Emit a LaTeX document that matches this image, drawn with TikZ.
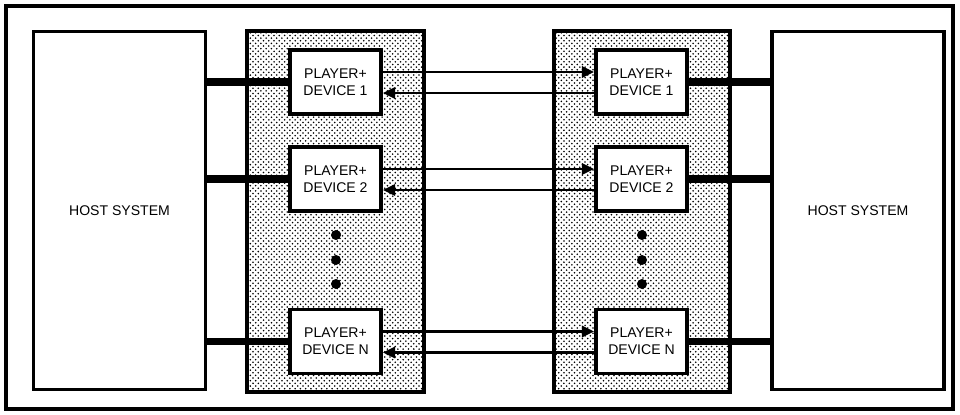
\documentclass[tikz,border=0pt]{standalone}
\usepackage{fontspec}
\setmainfont{Liberation Sans}
\usepackage{tikz}
\usetikzlibrary{arrows.meta, patterns, calc}

\tikzset{
  hostbox/.style={draw, line width=2.2pt, fill=white, minimum width=3.44cm, minimum height=7.16cm, font=\fontsize{8}{10}\selectfont},
  devbox/.style={draw, line width=2.2pt, fill=white, minimum width=1.82cm, minimum height=1.28cm, align=center, font=\fontsize{8}{9.5}\selectfont},
  panel/.style={draw, line width=2.2pt, pattern=crosshatch dots, pattern color=black},
  bus/.style={line width=4.5pt},
  flow/.style={line width=1.5pt, -{Triangle[length=7pt, width=6.5pt]}},
}

\begin{document}
\begin{tikzpicture}[x=0.02cm, y=-0.02cm]
\useasboundingbox (0,0) rectangle (960,415);
% outer frame
\draw[line width=2pt] (6,6) rectangle (953,409);

% shaded panels
\draw[panel] (247,31) rectangle (424,392);
\draw[panel] (554,31) rectangle (730,392);

% host systems
\node[hostbox] (hl) at (119.5,210.5) {HOST SYSTEM};
\node[hostbox] (hr) at (858,210.5) {HOST SYSTEM};

% player+device pairs
\foreach \n/\lab/\y in {1/1/82, 2/2/179, 3/N/341.5} {
  \node[devbox] (dl\n) at (335.5,\y) {PLAYER+\\DEVICE \lab};
  \node[devbox] (dr\n) at (641.5,\y) {PLAYER+\\DEVICE \lab};
  \draw[bus] (hl.east |- dl\n.west) -- (dl\n.west);
  \draw[bus] (dr\n.east) -- (hr.west |- dr\n.east);
  \draw[flow] ([yshift=0.2cm]dl\n.east) -- ([yshift=0.2cm]dr\n.west);
  \draw[flow] ([yshift=-0.22cm]dr\n.west) -- ([yshift=-0.22cm]dl\n.east);
}

% dots
\foreach \x in {336,642}
  \foreach \y in {235,260,284}
    \fill (\x,\y) circle (0.1cm);
\end{tikzpicture}
\end{document}
